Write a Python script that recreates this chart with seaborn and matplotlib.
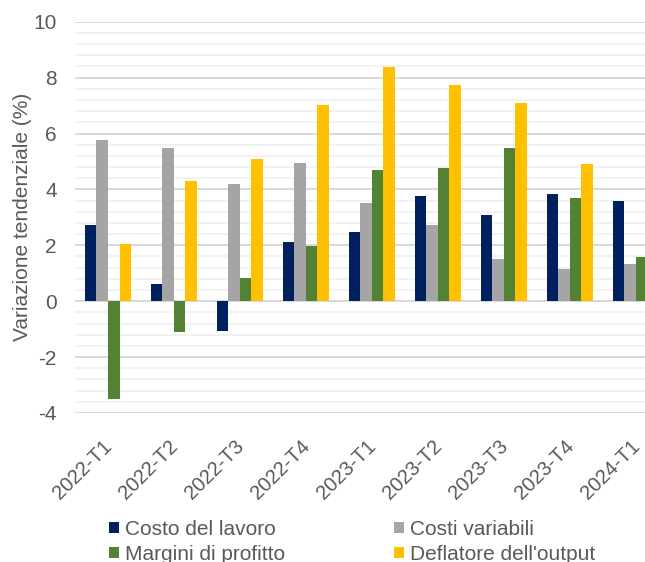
import numpy as np
import pandas as pd
import seaborn as sns
import matplotlib
matplotlib.use("Agg")
import matplotlib.pyplot as plt
from matplotlib.patches import Patch
from matplotlib.ticker import MultipleLocator
import matplotlib.transforms as mtransforms

# Quarterly year-on-year changes (%)
periodi = ["2022-T1", "2022-T2", "2022-T3", "2022-T4", "2023-T1",
           "2023-T2", "2023-T3", "2023-T4", "2024-T1"]
costo_lavoro = [2.71, 0.63, -1.07, 2.11, 2.49, 3.77, 3.09, 3.85, 3.59]
costi_variabili = [5.75, 5.49, 4.20, 4.94, 3.52, 2.73, 1.51, 1.16, 1.32]
margini_profitto = [-3.51, -1.11, 0.82, 1.96, 4.68, 4.75, 5.49, 3.68, 1.59]
deflatore_output = [2.05, 4.31, 5.08, 7.01, 8.38, 7.73, 7.09, 4.92, np.nan]

serie = ["Costo del lavoro", "Costi variabili", "Margini di profitto",
         "Deflatore dell'output"]
colori = ["#002060", "#A5A5A5", "#548235", "#FFC000"]

valori = [costo_lavoro, costi_variabili, margini_profitto, deflatore_output]
df = pd.DataFrame({
    "periodo": np.tile(periodi, len(serie)),
    "serie": np.repeat(serie, len(periodi)),
    "valore": np.concatenate([np.asarray(v, dtype=float) for v in valori]),
})

sns.set_theme(style="white")
plt.rcParams["font.family"] = ["Liberation Sans", "DejaVu Sans"]
plt.rcParams["axes.unicode_minus"] = False
testo = "#595959"

fig = plt.figure(figsize=(6.45, 5.62), dpi=100)
ax = fig.add_axes([75 / 645, 1 - 413 / 562, 593.6 / 645, (413 - 21.7) / 562])

sns.barplot(data=df, x="periodo", y="valore", hue="serie", order=periodi,
            hue_order=serie, palette=colori, width=0.7, gap=0,
            saturation=1, legend=False, ax=ax, errorbar=None,
            edgecolor="none")

ax.set_xlim(-0.5, len(periodi) - 0.5)
ax.set_ylim(-4, 10)
ax.yaxis.set_major_locator(MultipleLocator(2))
ax.yaxis.set_minor_locator(MultipleLocator(0.4))
ax.grid(axis="y", which="major", color="#D9D9D9", linewidth=1.4, zorder=0)
ax.grid(axis="y", which="minor", color="#F2F2F2", linewidth=1.4, zorder=0)
ax.grid(axis="x", which="both", visible=False)
ax.set_axisbelow(True)
ax.axhline(0, color="#D9D9D9", linewidth=1.4, zorder=0.5)
for s in ax.spines.values():
    s.set_visible(False)

ax.tick_params(axis="y", which="both", length=0, pad=13, labelsize=15,
               labelcolor=testo)
ax.tick_params(axis="x", which="both", length=0, pad=22, labelsize=14.5,
               labelcolor=testo)
ax.set_xlabel("")
ax.set_ylabel("Variazione tendenziale (%)", fontsize=15, color=testo)
ax.yaxis.set_label_coords(-0.072, 0.5)

offset = mtransforms.ScaledTranslation(1 / 100, 0, fig.dpi_scale_trans)
for lab in ax.get_xticklabels():
    lab.set_rotation(45)
    lab.set_ha("right")
    lab.set_va("center")
    lab.set_rotation_mode("anchor")
    lab.set_transform(lab.get_transform() + offset)

ordine = [0, 2, 1, 3]
handles = [Patch(facecolor=colori[i], edgecolor="none") for i in ordine]
labels = [serie[i] for i in ordine]
fig.legend(handles, labels, ncol=2, loc="upper left",
           bbox_to_anchor=(109 / 645, 1 - 520 / 562), frameon=False,
           fontsize=15, handlelength=0.48, handleheight=0.48,
           handletextpad=0.27, columnspacing=5.25, labelspacing=0.29,
           borderpad=0, borderaxespad=0, labelcolor=testo)

fig.savefig("out.png", dpi=100)
